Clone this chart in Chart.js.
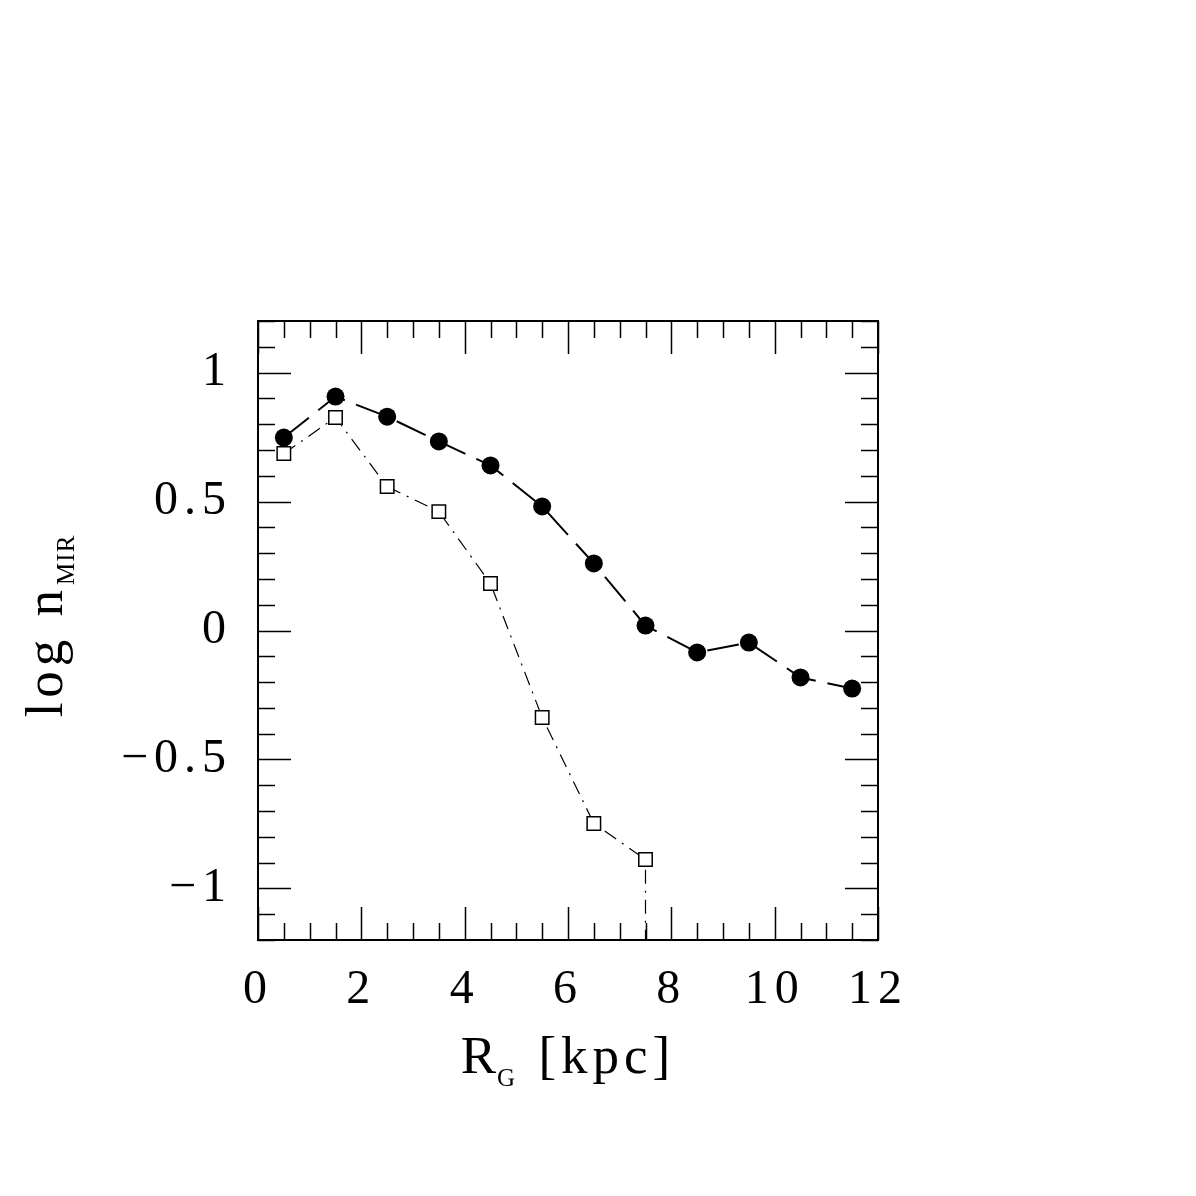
<!DOCTYPE html>
<html>
<head>
<meta charset="utf-8">
<script src="https://cdn.jsdelivr.net/npm/chart.js@4/dist/chart.umd.min.js"></script>
<style>
  html, body { margin: 0; padding: 0; background: #fff; }
  #wrap { width: 1196px; height: 1196px; }
</style>
</head>
<body>
<div id="wrap"><canvas id="grafico" width="1196" height="1196"></canvas></div>
<script>
// galactocentric radius bins (kpc)
const rg = [0.5, 1.5, 2.5, 3.5, 4.5, 5.5, 6.5, 7.5, 8.5, 9.5, 10.5, 11.5];
// filled circles: log n_MIR, all sources
const nTodos = [0.748, 0.907, 0.829, 0.733, 0.640, 0.481, 0.260, 0.019, -0.085, -0.047, -0.182, -0.225];
// open squares: second sample, drops off-scale after 7.5 kpc
const rgSub = [0.5, 1.5, 2.5, 3.5, 4.5, 5.5, 6.5, 7.5, 7.5];
const nSub = [0.686, 0.826, 0.558, 0.461, 0.182, -0.337, -0.748, -0.888, -3];
const xTicks = [0, 2, 4, 6, 8, 10, 12];
const yTicks = [-1, -0.5, 0, 0.5, 1];

const fuente = '"Liberation Serif", "DejaVu Serif", serif';

function pares(xs, ys) {
  return xs.map((x, i) => ({ x: x, y: ys[i] }));
}

// espaciado de letras mas abierto, como en la figura original
const espaciado = {
  id: 'espaciado',
  beforeDraw(chart) { chart.ctx.letterSpacing = '6px'; }
};

// marco y ticks hacia adentro en los cuatro lados
const marco = {
  id: 'marco',
  afterDatasetsDraw(chart) {
    const { ctx, chartArea: a, scales } = chart;
    const xs = scales.x, ys = scales.y;
    ctx.save();
    ctx.strokeStyle = '#000';
    ctx.lineWidth = 2;
    ctx.strokeRect(a.left, a.top, a.right - a.left, a.bottom - a.top);
    ctx.lineWidth = 1.5;
    ctx.beginPath();
    for (let v = 0; v <= 12.001; v += 0.5) {
      const px = Math.round(xs.getPixelForValue(v)) + 0.5;
      const len = Math.abs(v % 2) < 1e-6 ? 33 : 17;
      ctx.moveTo(px, a.bottom); ctx.lineTo(px, a.bottom - len);
      ctx.moveTo(px, a.top); ctx.lineTo(px, a.top + len);
    }
    for (let k = -12; k <= 12; k++) {
      const v = k / 10;
      const py = Math.round(ys.getPixelForValue(v)) + 0.5;
      const len = k % 5 === 0 ? 33 : 17;
      ctx.moveTo(a.left, py); ctx.lineTo(a.left + len, py);
      ctx.moveTo(a.right, py); ctx.lineTo(a.right - len, py);
    }
    ctx.stroke();

    // titulos con subindice
    ctx.fillStyle = '#000';
    ctx.textBaseline = 'alphabetic';
    ctx.textAlign = 'left';
    const fMain = '53px ' + fuente, fSub = '25px ' + fuente;
    const lsMain = '5px', lsSub = '1px';

    ctx.letterSpacing = '1px';
    ctx.font = fMain;
    const wR = ctx.measureText('R').width;
    ctx.letterSpacing = lsMain;
    const wRest = ctx.measureText(' [kpc]').width;
    ctx.letterSpacing = lsSub;
    ctx.font = fSub;
    const wG = ctx.measureText('G').width + 4;
    const x0 = (a.left + a.right) / 2 - (wR + wG + wRest) / 2;
    const yb = 1073;
    ctx.letterSpacing = '1px';
    ctx.font = fMain; ctx.fillText('R', x0, yb);
    ctx.letterSpacing = lsSub;
    ctx.font = fSub; ctx.fillText('G', x0 + wR, yb + 13);
    ctx.letterSpacing = lsMain;
    ctx.font = fMain; ctx.fillText(' [kpc]', x0 + wR + wG, yb);

    ctx.translate(62, 626);
    ctx.rotate(-Math.PI / 2);
    ctx.letterSpacing = lsMain;
    ctx.font = fMain;
    const wL = ctx.measureText('log n').width;
    ctx.letterSpacing = lsSub;
    ctx.font = fSub;
    const wM = ctx.measureText('MIR').width;
    const s0 = -(wL + wM) / 2;
    ctx.letterSpacing = lsMain;
    ctx.font = fMain; ctx.fillText('log n', s0, 0);
    ctx.letterSpacing = lsSub;
    ctx.font = fSub; ctx.fillText('MIR', s0 + wL, 12);
    ctx.restore();
  }
};

new Chart(document.getElementById('grafico').getContext('2d'), {
  type: 'line',
  data: {
    datasets: [{
      data: pares(rg, nTodos),
      borderColor: '#000',
      backgroundColor: '#000',
      borderWidth: 2,
      borderDash: [32, 12],
      pointStyle: 'circle',
      pointRadius: 9,
      pointBackgroundColor: '#000',
      pointBorderWidth: 0,
      tension: 0,
      fill: false
    }, {
      data: pares(rgSub, nSub),
      borderColor: '#000',
      backgroundColor: '#000',
      borderWidth: 1.2,
      borderDash: [14, 7, 2, 7],
      pointStyle: 'rect',
      pointRadius: nSub.map((v, i) => i < nSub.length - 1 ? 9.5 : 0),
      pointBackgroundColor: '#fff',
      pointBorderColor: '#000',
      pointBorderWidth: 1.5,
      tension: 0,
      fill: false
    }]
  },
  options: {
    responsive: false,
    animation: false,
    layout: { padding: { left: 0, right: 318, top: 321, bottom: 0 } },
    plugins: {
      legend: { display: false },
      tooltip: { enabled: false }
    },
    scales: {
      x: {
        type: 'linear',
        min: 0, max: 12,
        afterFit(scale) { scale.height = 256; },
        afterBuildTicks(scale) { scale.ticks = xTicks.map(v => ({ value: v })); },
        grid: { display: false, drawTicks: false },
        border: { display: false },
        ticks: {
          padding: 22,
          color: '#000',
          maxRotation: 0,
          font: { family: fuente, size: 48 },
          callback: v => String(v)
        }
      },
      y: {
        type: 'linear',
        min: -1.2, max: 1.2,
        afterFit(scale) { scale.width = 258; },
        afterBuildTicks(scale) { scale.ticks = yTicks.map(v => ({ value: v })); },
        grid: { display: false, drawTicks: false },
        border: { display: false },
        ticks: {
          padding: 26,
          color: '#000',
          font: { family: fuente, size: 48 },
          callback: v => (v < 0 ? '\u2212' : '') + String(Math.abs(v))
        }
      }
    }
  },
  plugins: [espaciado, marco]
});
</script>
</body>
</html>
